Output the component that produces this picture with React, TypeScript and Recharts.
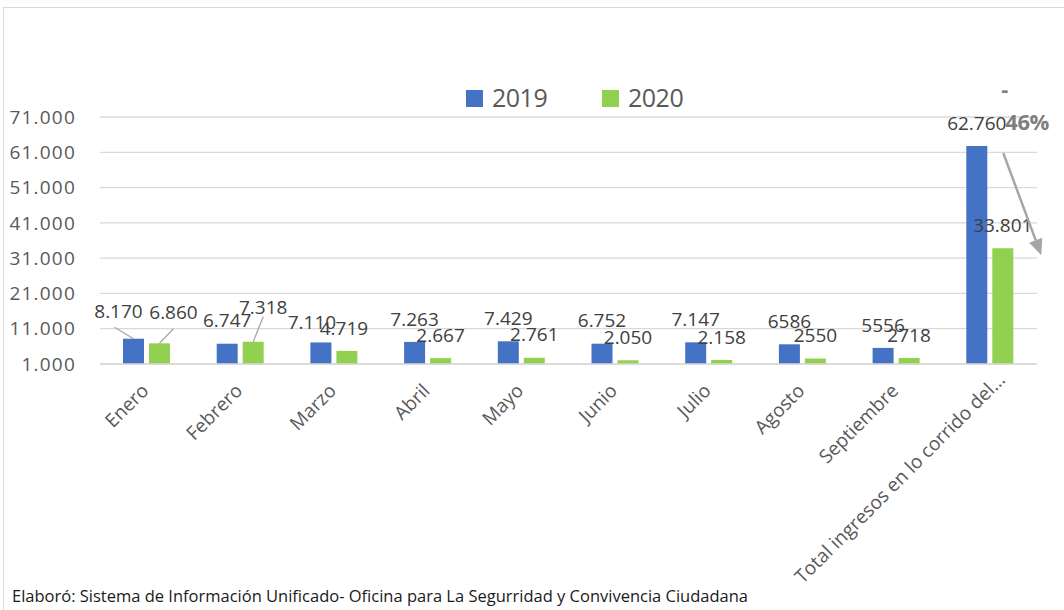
import React from 'react';
import { BarChart, Bar, XAxis, YAxis, CartesianGrid, LabelList, Legend } from 'recharts';

const categories = [
  'Enero',
  'Febrero',
  'Marzo',
  'Abril',
  'Mayo',
  'Junio',
  'Julio',
  'Agosto',
  'Septiembre',
  'Total ingresos en lo corrido del…',
];
const values2019 = [8170, 6747, 7110, 7263, 7429, 6752, 7147, 6586, 5556, 62760];
const values2020 = [6860, 7318, 4719, 2667, 2761, 2050, 2158, 2550, 2718, 33801];
const labels2019 = ['8.170', '6.747', '7.110', '7.263', '7.429', '6.752', '7.147', '6586', '5556', '62.760'];
const labels2020 = ['6.860', '7.318', '4.719', '2.667', '2.761', '2.050', '2.158', '2550', '2718', '33.801'];
const yTicks = [1000, 11000, 21000, 31000, 41000, 51000, 61000, 71000];
const seriesNames = ['2019', '2020'];
const changeText = ['-', '46%'];
const caption = 'Elaboró: Sistema de Información Unificado- Oficina para La Segurridad y Convivencia Ciudadana';

const COLORS = ['#4472c4', '#92d050'];
const FONT = "'Open Sans', 'Noto Sans', sans-serif";

const data = categories.map((name, i) => ({ name, y2019: values2019[i], y2020: values2020[i] }));

type Nudge = { dx: number; dy: number; leader?: [number, number] };
const nudges2019: Record<number, Nudge> = {
  0: { dx: -15, dy: -4, leader: [-4, 15.5] },
  2: { dx: -9, dy: 3 },
};
const nudges2020: Record<number, Nudge> = {
  0: { dx: 14, dy: -8, leader: [0, 16.5] },
  1: { dx: 10, dy: -11, leader: [0, 9] },
  2: { dx: -3, dy: 0 },
};

const fmt = (v: number) => String(v).replace(/\B(?=(\d{3})+(?!\d))/g, '.');

const makeLabel = (labels: string[], nudges: Record<number, Nudge>, annotate: boolean) => (props: any) => {
  const vb = props.viewBox || {};
  const x = Number(props.x ?? vb.x);
  const y = Number(props.y ?? vb.y);
  const w = Number(props.width ?? vb.width);
  const h = Number(props.height ?? vb.height);
  const idx = props.index as number;
  const n = nudges[idx] || { dx: 0, dy: 0 };
  const bx = x + w / 2;
  const cx = bx + n.dx;
  const cy = y - 23 + n.dy;
  let annotation: React.ReactNode = null;
  if (annotate && idx === values2020.length - 1) {
    const pxPerUnit = h / (values2020[idx] - 1000);
    const base = y + h;
    const top19 = base - (values2019[idx] - 1000) * pxPerUnit;
    const sx = x + 11;
    const sy = top19 + 7;
    const tx = x + 49;
    const ty = y + 7;
    const len = Math.hypot(tx - sx, ty - sy);
    const ux = (tx - sx) / len;
    const uy = (ty - sy) / len;
    const hl = 16;
    const hw = 7;
    const bxh = tx - ux * hl;
    const byh = ty - uy * hl;
    annotation = (
      <g>
        <line x1={sx} y1={sy} x2={bxh} y2={byh} stroke="#a6a6a6" strokeWidth={2.5} />
        <polygon
          points={`${tx},${ty} ${bxh - uy * hw},${byh + ux * hw} ${bxh + uy * hw},${byh - ux * hw}`}
          fill="#a6a6a6"
        />
        <text x={x + 9} y={top19 - 49} fontSize={22} fontWeight="bold" fill="#7f7f7f" fontFamily={FONT}>
          {changeText[0]}
        </text>
        <text x={x + 13} y={top19 - 16} fontSize={22} fontWeight="bold" fill="#7f7f7f" fontFamily={FONT} letterSpacing={-0.5}>
          {changeText[1]}
        </text>
      </g>
    );
  }
  return (
    <g>
      {n.leader && (
        <line x1={cx + n.leader[0]} y1={cy + n.leader[1]} x2={bx} y2={y} stroke="#a6a6a6" strokeWidth={1.3} />
      )}
      <text x={cx} y={cy} dy="0.35em" textAnchor="middle" fontSize={19} fill="#404040" fontFamily={FONT}>
        {labels[idx]}
      </text>
      {annotation}
    </g>
  );
};

const XTick = (props: any) => {
  const { x, y, payload } = props;
  const last = payload.value === categories[categories.length - 1];
  const ax = x + (last ? 16 : 3);
  const ay = y + (last ? 17 : 28);
  return (
    <text
      x={ax}
      y={ay}
      transform={`rotate(-45 ${ax} ${ay})`}
      textAnchor="end"
      fontSize={19}
      fill="#595959"
      fontFamily={FONT}
    >
      {payload.value}
    </text>
  );
};

const LegendContent = () => (
  <div style={{ position: 'relative', width: 240, height: 32, fontFamily: FONT }}>
    {seriesNames.map((s, i) => (
      <React.Fragment key={s}>
        <div
          style={{ position: 'absolute', left: i * 136, top: 8, width: 17, height: 17, background: COLORS[i] }}
        />
        <div
          style={{
            position: 'absolute',
            left: i * 136 + 26,
            top: 0,
            fontSize: 25,
            lineHeight: '30px',
            color: '#595959',
            letterSpacing: -0.5,
            whiteSpace: 'nowrap',
          }}
        >
          {s}
        </div>
      </React.Fragment>
    ))}
  </div>
);

export default function App() {
  return (
    <div style={{ position: 'absolute', left: 0, top: 0, width: 1064, height: 610, background: '#fff', overflow: 'hidden' }}>
      <div
        style={{
          position: 'absolute',
          left: 3,
          top: 7,
          width: 1080,
          height: 640,
          border: '1px solid #d9d9d9',
          boxSizing: 'border-box',
        }}
      />
      <div style={{ position: 'absolute', left: 0, top: 0 }}>
        <BarChart
          width={1064}
          height={610}
          data={data}
          margin={{ top: 117, right: 27, left: 0, bottom: 26 }}
          barSize={21}
          barGap={5}
        >
          <CartesianGrid vertical={false} stroke="#d9d9d9" strokeWidth={1.3} />
          <XAxis
            dataKey="name"
            interval={0}
            height={220}
            tickLine={false}
            tickSize={0}
            tickMargin={0}
            axisLine={{ stroke: '#d9d9d9', strokeWidth: 1.3 }}
            tick={<XTick />}
          />
          <YAxis
            domain={[1000, 71000]}
            ticks={yTicks}
            interval={0}
            allowDataOverflow
            width={100}
            axisLine={false}
            tickLine={false}
            tickSize={0}
            tickMargin={24}
            tickFormatter={fmt}
            tick={{ fontSize: 19, fill: '#595959', fontFamily: FONT, letterSpacing: 1.2 }}
          />
          <Legend
            verticalAlign="middle"
            align="center"
            wrapperStyle={{ top: 82, left: 466, width: 240, height: 32 }}
            content={<LegendContent />}
          />
          <Bar dataKey="y2019" name={seriesNames[0]} fill={COLORS[0]} isAnimationActive={false}>
            <LabelList dataKey="y2019" content={makeLabel(labels2019, nudges2019, false)} />
          </Bar>
          <Bar dataKey="y2020" name={seriesNames[1]} fill={COLORS[1]} isAnimationActive={false}>
            <LabelList dataKey="y2020" content={makeLabel(labels2020, nudges2020, true)} />
          </Bar>
        </BarChart>
      </div>
      <svg style={{ position: 'absolute', left: 0, top: 580 }} width={1064} height={30}>
        <text x={12} y={22} fontSize={15.5} fill="#1a1a1a" fontFamily={FONT} textLength={736} lengthAdjust="spacingAndGlyphs">
          {caption}
        </text>
      </svg>
    </div>
  );
}
